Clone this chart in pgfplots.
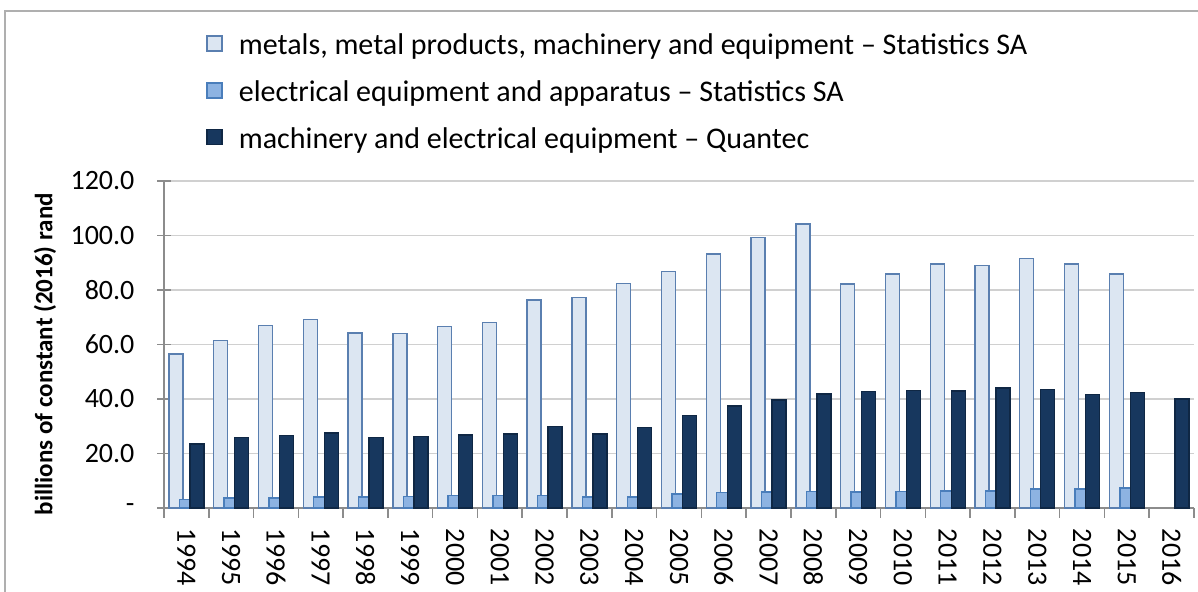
\documentclass[border=0pt]{standalone}
\usepackage{fontspec}
\setmainfont{Carlito}
\usepackage{pgfplots}
\pgfplotsset{compat=1.18}

\definecolor{lightfill}{HTML}{DCE6F2}
\definecolor{lightdraw}{HTML}{5A7FB0}
\definecolor{medfill}{HTML}{8DB3E2}
\definecolor{meddraw}{HTML}{4A7EBB}
\definecolor{darkfill}{HTML}{17375E}
\definecolor{darkdraw}{HTML}{0F2744}
\definecolor{gridgray}{HTML}{D0D0D0}
\definecolor{axisgray}{HTML}{8C8C8C}

\pgfplotsset{
  boxlegend/.style={legend image code/.code={
    \draw[##1, bar shift=0pt, line width=0.7pt] (0pt,-2.5pt) rectangle (7.5pt,5pt);}},
}

\begin{document}
\begin{tikzpicture}
  \begin{axis}[
    name=ax,
    at={(0,0)}, anchor=south west,
    scale only axis,
    width=515pt, height=163.5pt,
    ybar, bar width=7pt,
    xmin=-0.5, xmax=22.5,
    ymin=0, ymax=120,
    axis x line*=bottom, axis y line*=left,
    axis line style={draw=axisgray, line width=0.8pt, -},
    xtick={0,...,22},
    xticklabels={1994,1995,1996,1997,1998,1999,2000,2001,2002,2003,2004,2005,2006,2007,2008,2009,2010,2011,2012,2013,2014,2015,2016},
    major x tick style={draw=none},
    minor xtick={-0.5,0.5,...,22.5},
    minor tick length=5pt,
    minor x tick style={draw=axisgray, line width=0.8pt},
    ytick={0,20,...,120},
    yticklabels={-,20.0,40.0,60.0,80.0,100.0,120.0},
    major tick length=6.5pt,
    ytick align=center,
    xtick align=outside,
    y tick style={draw=axisgray, line width=0.8pt},
    ymajorgrids=true,
    grid style={draw=gridgray, line width=0.9pt},
    tick label style={font=\fontsize{14}{16}\selectfont},
    xticklabel style={yshift=-0.4pt, rotate=-90, anchor=west},
    yticklabel style={xshift=-8pt},
    ylabel={\textbf{billions of constant (2016) rand}},
    ylabel style={at={(axis description cs:-0.1155,0.47)}, anchor=center, font=\fontsize{12.5}{14}\selectfont},
    legend style={at={(axis description cs:0.035,1.475)}, anchor=north west,
      draw=none, fill=none, row sep=7.5pt, column sep=6pt,
      font=\fontsize{15}{17}\selectfont},
    legend cell align=left,
    clip=false,
  ]
    \addplot[fill=lightfill, draw=lightdraw, line width=0.7pt, bar shift=-5.25pt, boxlegend] coordinates {
      (0,56.5) (1,61.4) (2,67.0) (3,69.2) (4,64.2) (5,64.0) (6,66.6) (7,68.0)
      (8,76.4) (9,77.3) (10,82.4) (11,86.8) (12,93.2) (13,99.3) (14,104.2)
      (15,82.2) (16,85.9) (17,89.5) (18,89.0) (19,91.5) (20,89.5) (21,85.9)
    };
    \addplot[fill=medfill, draw=meddraw, line width=0.7pt, bar shift=0pt, boxlegend] coordinates {
      (0,3.2) (1,3.7) (2,3.7) (3,4.0) (4,4.0) (5,4.2) (6,4.5) (7,4.5)
      (8,4.5) (9,4.0) (10,4.0) (11,5.1) (12,5.6) (13,5.9) (14,6.1)
      (15,5.9) (16,6.0) (17,6.3) (18,6.3) (19,7.0) (20,7.0) (21,7.3)
    };
    \addplot[fill=darkfill, draw=darkdraw, line width=0.7pt, bar shift=5.25pt, boxlegend] coordinates {
      (0,23.5) (1,25.9) (2,26.5) (3,27.5) (4,25.9) (5,26.2) (6,26.8) (7,27.2)
      (8,29.8) (9,27.2) (10,29.6) (11,34.0) (12,37.4) (13,39.6) (14,41.8)
      (15,42.7) (16,43.2) (17,43.0) (18,44.0) (19,43.5) (20,41.7) (21,42.4)
      (22,40.0)
    };
    \legend{{metals, metal products, machinery and equipment – Statistics SA},
      {electrical equipment and apparatus – Statistics SA},
      {machinery and electrical equipment – Quantec}}
  \end{axis}
  \draw[draw=axisgray!70, line width=0.8pt] (-79.5pt,-60pt) -- (-79.5pt,248.5pt) -- (540pt,248.5pt);
  \pgfresetboundingbox
  \path[use as bounding box] (-82pt,-42pt) rectangle (517pt,254pt);
\end{tikzpicture}
\end{document}
